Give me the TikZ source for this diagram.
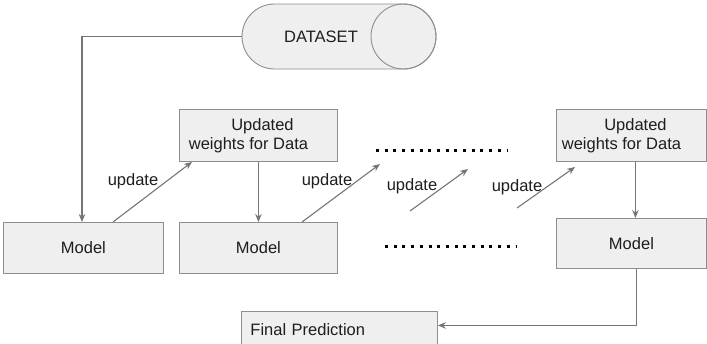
\documentclass[tikz,border=0pt]{standalone}
\usepackage{fontspec}
\setmainfont{Liberation Sans}
\usetikzlibrary{arrows.meta,positioning}
\definecolor{boxfill}{HTML}{EFEFEF}
\definecolor{boxline}{HTML}{8E8E8E}
\definecolor{wire}{HTML}{757575}
\definecolor{ink}{HTML}{1E1E1E}
\tikzset{
  box/.style={draw=boxline, line width=0.9pt, fill=boxfill, anchor=north west,
    inner sep=0pt, text=ink, font=\fontsize{16.5}{19}\selectfont, align=center},
  conn/.style={draw=wire, line width=1.1pt, -{Stealth[length=8pt,width=6.5pt]}},
  lbl/.style={text=ink, font=\fontsize{16.5}{19}\selectfont, inner sep=0pt},
  dotrow/.style={draw=black, line width=3pt, dash pattern=on 3pt off 5.7pt},
}
\newcommand{\upwt}{\hspace*{8pt}Updated\\weights for Data\hspace*{20pt}}
\begin{document}
\begin{tikzpicture}[x=1pt,y=-1pt]
\useasboundingbox (0,0) rectangle (707,343);

% dataset cylinder lying on its side, rounded ends built from quarter curves
\draw[draw=boxline, line width=0.9pt, fill=boxfill]
  (403.5,4) -- (274.5,4)
  .. controls (256.55,4) and (242,18.55) .. (242,36.5)
  .. controls (242,54.45) and (256.55,69) .. (274.5,69)
  -- (403.5,69)
  .. controls (421.45,69) and (436,54.45) .. (436,36.5)
  .. controls (436,18.55) and (421.45,4) .. (403.5,4) -- cycle;
\draw[draw=boxline, line width=0.9pt] (403.5,36.5) circle[radius=32.5pt];
\node[lbl] (ds) at (321,36.5) {DATASET};
\coordinate (dsl) at (242,36.5);

% first column
\node[box, minimum width=160pt, minimum height=51pt] (m1) at (3,222) {Model};
\node[box, minimum width=158pt, minimum height=52pt] (u1) at (179,109) {\upwt};
\node[box, minimum width=158pt, minimum height=51pt] (m2) at (179,222) {Model};

% last column
\node[box, minimum width=150pt, minimum height=52pt] (u3) at (556,109) {\upwt};
\node[box, minimum width=150pt, minimum height=50pt] (m3) at (556,218) {Model};

% final prediction box
\node[box, minimum height=36pt, text width=178pt, inner xsep=9pt, align=left]
  (fp) at (241,311) {Final Prediction};

% loose update arrows in the middle
\coordinate (a2e) at (380,164);
\coordinate (a3s) at (410,211);
\coordinate (a3e) at (468,169);
\coordinate (a4s) at (517,208);
\coordinate (a4e) at (575,167);

% dotted gaps
\coordinate (d1a) at (376,150);
\coordinate (d1b) at (508,150);
\coordinate (d2a) at (385,246);
\coordinate (d2b) at (516,246);
\draw[dotrow] (d1a) -- (d1b);
\draw[dotrow] (d2a) -- (d2b);

% connectors
\draw[conn] (dsl) -| ([xshift=79pt]m1.north west);
\draw[conn] ([xshift=110pt]m1.north west) -- ([xshift=13pt]u1.south west);
\draw[conn] (u1.south) -- (m2.north);
\draw[conn] ([xshift=123pt]m2.north west) -- (a2e);
\draw[conn] (a3s) -- (a3e);
\draw[conn] (a4s) -- (a4e);
\draw[conn] ([xshift=4pt]u3.south) -- ([xshift=4pt]m3.north);
\draw[conn] ([xshift=5pt]m3.south) |- ([yshift=4pt]fp.east);

% edge labels
\node[lbl] (l1) at (133,181) {update};
\node[lbl] (l2) at (327,181) {update};
\node[lbl] (l3) at (412,186) {update};
\node[lbl] (l4) at (517,187) {update};
\end{tikzpicture}
\end{document}
